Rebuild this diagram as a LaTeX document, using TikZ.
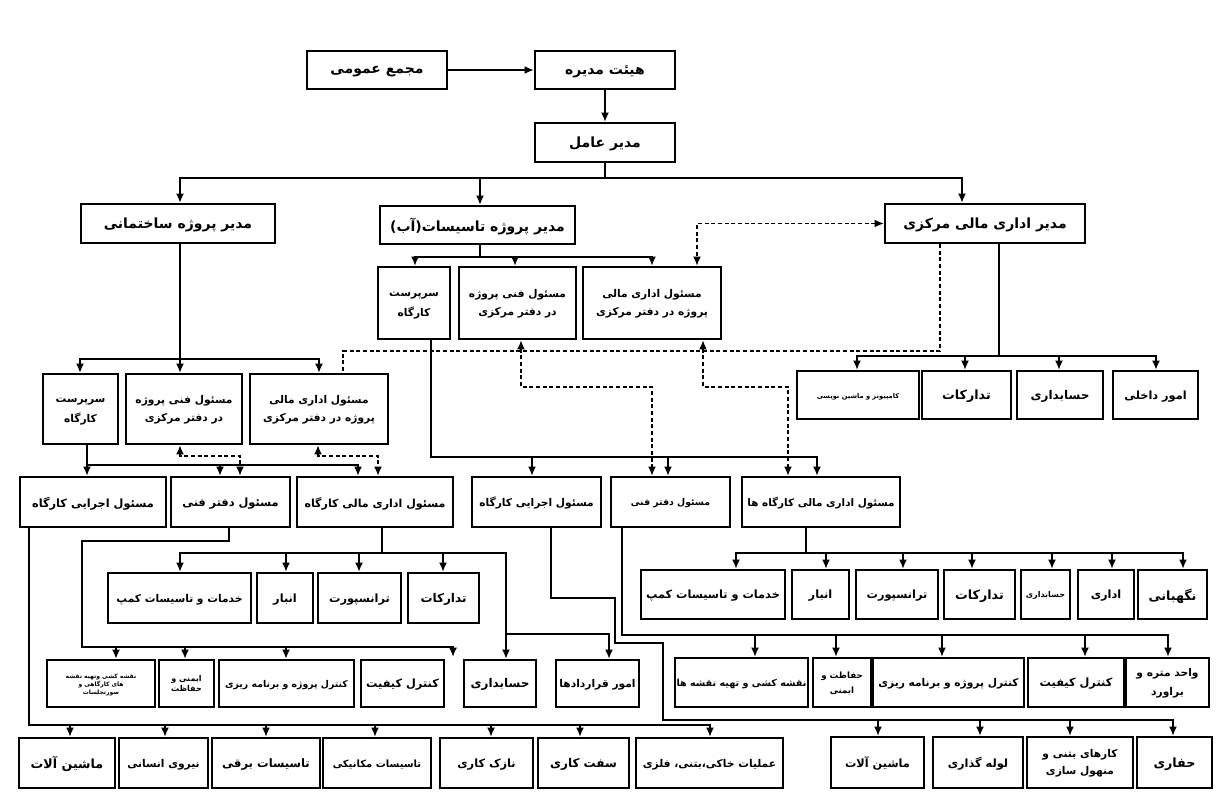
\documentclass[tikz,border=0pt]{standalone}
\usepackage{fontspec}
\usetikzlibrary{arrows.meta,fit}
\TeXXeTstate=1
\newfontfamily\arabicfont[Script=Arabic]{DejaVu Sans}
\newcommand\fa[1]{{\arabicfont\bfseries\beginR #1\endR}}
\newcommand\ml[3][5pt]{\begin{tabular}{@{}c@{}}\fa{#2}\\[#1]\fa{#3}\end{tabular}}
\newcommand\mlt[3]{\begin{tabular}{@{}c@{}}\fa{#1}\\[1pt]\fa{#2}\\[1pt]\fa{#3}\end{tabular}}
\newcommand\bxn[7][]{\node[bx,fit={(#3,#4) (#5,#6)}] (#2) {};\node[lbl,#1] at (#2.center) {#7};}
\tikzset{
  bx/.style={draw, line width=1.7pt, inner sep=0pt},
  lbl/.style={inner sep=0pt, yshift=-1pt, font=\fontsize{8.5}{8.5}\selectfont},
  fs/.style={font=\fontsize{#1}{#1}\selectfont},
  ln/.style={line width=1.3pt},
  ar/.style={ln, -{Latex[length=7pt,width=6pt]}},
  dl/.style={line width=1.3pt, dash pattern=on 3pt off 2pt},
  dar/.style={dl, {Latex[length=7pt,width=6pt]}-{Latex[length=7pt,width=6pt]}},
}
\begin{document}
\begin{tikzpicture}[x=0.75pt,y=-0.75pt]
\useasboundingbox[fill=white] (0,0) rectangle (1218,800);
% top
\bxn[fs=10.5]{ga}{307}{51}{447}{89}{\fa{مجمع عمومی}}
\bxn[fs=10.5]{bd}{535}{51}{675}{89}{\fa{هیئت مدیره}}
\bxn[fs=10.5]{ceo}{535}{123}{675}{162}{\fa{مدیر عامل}}
% row 1
\bxn[fs=10.5]{pmB}{81}{204}{275}{243}{\fa{مدیر پروژه ساختمانی}}
\bxn[fs=10.5]{pmW}{380}{206}{575}{244}{\fa{مدیر پروژه تاسیسات(آب)}}
\bxn[fs=10.5]{fin}{885}{204}{1085}{243}{\fa{مدیر اداری مالی مرکزی}}
% row 2 water
\bxn[fs=8]{wSup}{378}{267}{450}{339}{\ml{سرپرست}{کارگاه}}
\bxn[fs=8]{wTech}{459}{267}{576}{339}{\ml{مسئول فنی پروژه}{در دفتر مرکزی}}
\bxn[fs=8]{wFin}{583}{267}{721}{339}{\ml{مسئول اداری مالی}{پروژه در دفتر مرکزی}}
% fin children
\bxn[fs=5]{fComp}{797}{371}{919}{419}{\fa{کامپیوتر و ماشین نویسی}}
\bxn[fs=9.5]{fProc}{922}{371}{1011}{419}{\fa{تدارکات}}
\bxn[fs=9]{fAcc}{1017}{371}{1103}{419}{\fa{حسابداری}}
\bxn{fInt}{1113}{371}{1198}{419}{\fa{امور داخلی}}
% row 2 building
\bxn[fs=8]{bSup}{43}{374}{118}{444}{\ml{سرپرست}{کارگاه}}
\bxn[fs=8]{bTech}{126}{374}{242}{444}{\ml{مسئول فنی پروژه}{در دفتر مرکزی}}
\bxn[fs=8]{bFin}{250}{374}{388}{444}{\ml{مسئول اداری مالی}{پروژه در دفتر مرکزی}}
% row 4 left
\bxn{bExe}{20}{477}{166}{527}{\fa{مسئول اجرایی کارگاه}}
\bxn{bOff}{171}{477}{290}{527}{\fa{مسئول دفتر فنی}}
\bxn[fs=8.3]{bSiteFin}{297}{477}{453}{527}{\fa{مسئول اداری مالی کارگاه}}
% row 4 right
\bxn[fs=8]{wExe}{472}{477}{601}{527}{\fa{مسئول اجرایی کارگاه}}
\bxn[fs=7]{wOff}{611}{477}{730}{527}{\fa{مسئول دفتر فنی}}
\bxn[fs=7.8]{wSiteFin}{742}{477}{900}{527}{\fa{مسئول اداری مالی کارگاه ها}}
% row 5 left
\bxn[fs=8]{lCamp}{108}{573}{251}{623}{\fa{خدمات و تاسیسات کمپ}}
\bxn{lStore}{257}{573}{313}{623}{\fa{انبار}}
\bxn{lTrans}{318}{573}{401}{623}{\fa{ترانسپورت}}
\bxn[fs=9]{lProc}{408}{573}{479}{623}{\fa{تدارکات}}
% row 6 left
\bxn[fs=4.5]{lMap}{47}{660}{155}{707}{\mlt{نقشه کشی وتهیه نقشه}{های کارگاهی و}{صورتجلسات}}
\bxn[fs=6]{lSafe}{159}{660}{214}{707}{\ml[1pt]{ایمنی و}{حفاظت}}
\bxn[fs=7]{lPlan}{219}{660}{354}{707}{\fa{کنترل پروژه و برنامه ریزی}}
\bxn{lQC}{361}{660}{444}{707}{\fa{کنترل کیفیت}}
\bxn[fs=9]{lAcc}{464}{660}{536}{707}{\fa{حسابداری}}
\bxn[fs=8]{lCon}{556}{660}{639}{707}{\fa{امور قراردادها}}
\coordinate (lDang) at (453,657);
% row 5 right
\bxn[fs=8.5]{rCamp}{641}{570}{785}{619}{\fa{خدمات و تاسیسات کمپ}}
\bxn{rStore}{792}{570}{849}{619}{\fa{انبار}}
\bxn{rTrans}{856}{570}{938}{619}{\fa{ترانسپورت}}
\bxn[fs=9.5]{rProc}{944}{570}{1015}{619}{\fa{تدارکات}}
\bxn[fs=6]{rAcc}{1021}{570}{1070}{619}{\fa{حسابداری}}
\bxn{rAdm}{1078}{570}{1134}{619}{\fa{اداری}}
\bxn[fs=9.5]{rGuard}{1138}{570}{1207}{619}{\fa{نگهبانی}}
% row 6 right
\bxn[fs=7.2]{rMap}{675}{658}{808}{707}{\fa{نقشه کشی و تهیه نقشه ها}}
\bxn[fs=6.5]{rSafe}{813}{658}{871}{707}{\ml[4pt]{حفاظت و}{ایمنی}}
\bxn[fs=8]{rPlan}{873}{658}{1024}{707}{\fa{کنترل پروژه و برنامه ریزی}}
\bxn{rQC}{1028}{658}{1124}{707}{\fa{کنترل کیفیت}}
\bxn[fs=8]{rEst}{1126}{658}{1209}{707}{\ml[6pt]{واحد متره و}{براورد}}
% row 7 left
\bxn[fs=9.5]{b1}{19}{738}{115}{788}{\fa{ماشین آلات}}
\bxn[fs=8]{b2}{119}{738}{208}{788}{\fa{نیروی انسانی}}
\bxn[fs=8.7]{b3}{212}{738}{320}{788}{\fa{تاسیسات برقی}}
\bxn[fs=7.5]{b4}{323}{738}{431}{788}{\fa{تاسیسات مکانیکی}}
\bxn[fs=8.5]{b5}{440}{738}{533}{788}{\fa{نازک کاری}}
\bxn[fs=9]{b6}{538}{738}{629}{788}{\fa{سفت کاری}}
\bxn[fs=8]{b7}{636}{738}{783}{788}{\fa{عملیات خاکی،بتنی، فلزی}}
% row 7 right
\bxn{c1}{831}{737}{924}{788}{\fa{ماشین آلات}}
\bxn{c2}{933}{737}{1023}{788}{\fa{لوله گذاری}}
\bxn[fs=8]{c3}{1027}{737}{1133}{788}{\ml[4pt]{کارهای بتنی و}{منهول سازی}}
\bxn[fs=9.5]{c4}{1137}{737}{1212}{788}{\fa{حفاری}}

% connectors
\draw[ar] (ga.east) -- (bd.west);
\draw[ar] (bd.south) -- (ceo.north);
\foreach \n/\x in {pmB/180, pmW/480, fin/962}
  \draw[ar] (ceo.south) -- (ceo.south |- 0,178) -| (\n.north -| \x,0);
\foreach \n/\x in {wSup/415, wTech/515, wFin/652}
  \draw[ar] (pmW.south -| 480,0) -- (480,257) -| (\n.north -| \x,0);
\draw[dar] (fin.west) -| (wFin.north -| 697,0);
\foreach \n/\x in {fComp/857, fProc/965, fAcc/1059, fInt/1156}
  \draw[ar] (fin.south -| 999,0) -- (999,356) -| (\n.north -| \x,0);
\draw[dl] (fin.south -| 940,0) |- (343,351) -- (bFin.north -| 343,0);
\foreach \n/\x in {bSup/80, bTech/180, bFin/319}
  \draw[ar] (pmB.south -| 180,0) -- (180,359) -| (\n.north -| \x,0);
\foreach \n/\x in {bExe/87, bOff/220, bSiteFin/358}
  \draw[ar] (bSup.south -| 87,0) -- (87,465) -| (\n.north -| \x,0);
\draw[dar] (bTech.south -| 180,0) -- (180,456) -| (bOff.north -| 240,0);
\draw[dar] (bFin.south -| 318,0) -- (318,456) -| (bSiteFin.north -| 378,0);
\foreach \n/\x in {wExe/532, wOff/668, wSiteFin/817}
  \draw[ar] (wSup.south -| 431,0) -- (431,457) -| (\n.north -| \x,0);
\draw[dar] (wTech.south -| 521,0) -- (521,387) -| (wOff.north -| 652,0);
\draw[dar] (wFin.south -| 703,0) -- (703,387) -| (wSiteFin.north -| 788,0);
\foreach \n/\x in {lCamp/180, lStore/286, lTrans/359, lProc/443, lAcc/506}
  \draw[ar] (bSiteFin.south -| 382,0) -- (382,553) -| (\n.north -| \x,0);
\draw[ar] (bSiteFin.south -| 382,0) -- (382,553) -- (506,553) |- (609,634) -- (lCon.north -| 609,0);
\foreach \n/\x in {lMap/116, lSafe/185, lPlan/286}
  \draw[ar] (bOff.south -| 229,0) -- (229,541) -| (82,647) -| (\n.north -| \x,0);
\draw[ar] (bOff.south -| 229,0) -- (229,541) -| (82,647) -| (lDang);
\foreach \n/\x in {rCamp/736, rStore/826, rTrans/903, rProc/972, rAcc/1052, rAdm/1112, rGuard/1183}
  \draw[ar] (wSiteFin.south -| 806,0) -- (806,553) -| (\n.north -| \x,0);
\foreach \n/\x in {rMap/755, rSafe/836, rPlan/942, rQC/1085, rEst/1168}
  \draw[ar] (wOff.south -| 622,0) -- (622,635) -| (\n.north -| \x,0);
\foreach \n/\x in {b1/70, b2/165, b3/266, b4/375, b5/491, b6/580, b7/710}
  \draw[ar] (bExe.south -| 29,0) -- (29,725) -| (\n.north -| \x,0);
\foreach \n/\x in {c1/878, c2/980, c3/1070, c4/1173}
  \draw[ar] (wExe.south -| 551,0) -- (551,598) -- (615,598) -- (615,643) -- (663,643) -- (663,720) -| (\n.north -| \x,0);
\end{tikzpicture}
\end{document}
